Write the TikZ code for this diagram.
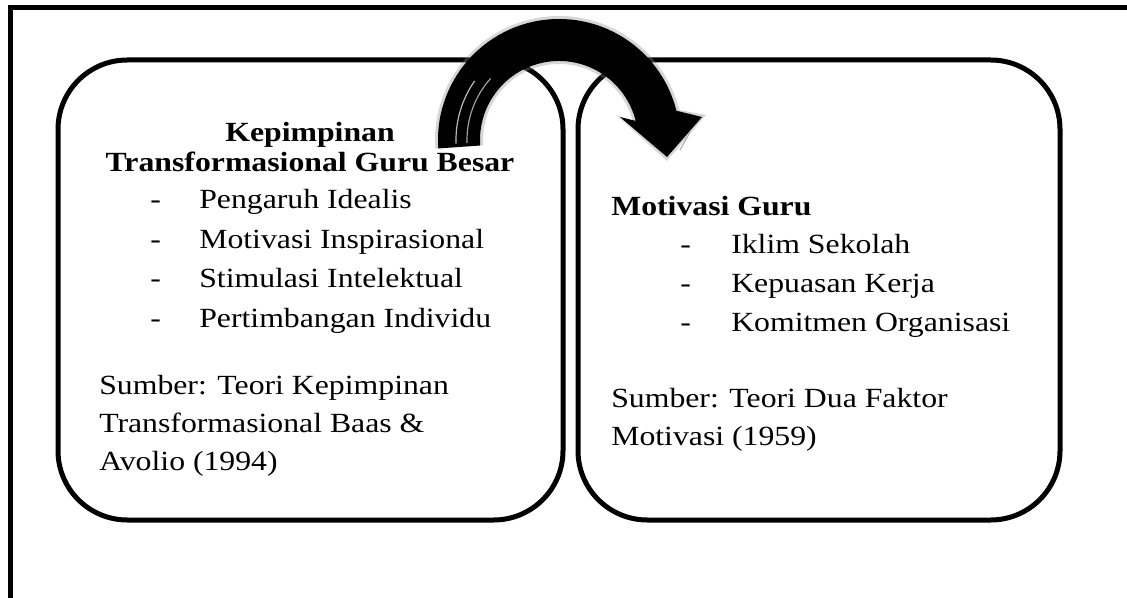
\documentclass[tikz,border=0pt]{standalone}
\usepackage{fontspec}
\setmainfont{Liberation Serif}[FakeStretch=1.145]
\usetikzlibrary{calc}
\begin{document}
\begin{tikzpicture}[x=0.75pt,y=-0.75pt,
  frameline/.style={line width=3.75pt},
  roundbox/.style={draw, line width=3.75pt, rounded corners=52pt, inner sep=0pt},
  txt/.style={anchor=base west, inner sep=0pt, font=\fontsize{20.8}{24}\selectfont},
  ttl/.style={txt, font=\fontsize{20.8}{24}\selectfont\bfseries},
  bigarrow/.style={fill=black},
  gloss/.style={draw=gray!75, line width=0.9pt}
]
\useasboundingbox (0,0) rectangle (1127,598);
\begin{scope}
\clip (0,0) rectangle (1127,598);
\draw[frameline] (10,620) -- (10,8) -- (1150,8);
\end{scope}

% boxes
\node[roundbox, minimum width=378.75pt, minimum height=345pt] (L) at (310.5,290) {};
\node[roundbox, minimum width=361.5pt, minimum height=345pt] (R) at (819,290) {};

% left box text
\node[ttl, anchor=base] (lt1) at (310,142) {Kepimpinan};
\node[ttl, anchor=base] (lt2) at (310,172) {Transformasional Guru Besar};
\node[txt] (ld1) at (150,209) {-};
\node[txt] (li1) at (199,209) {Pengaruh Idealis};
\node[txt] (ld2) at (150,248.5) {-};
\node[txt] (li2) at (199,248.5) {Motivasi Inspirasional};
\node[txt] (ld3) at (150,288) {-};
\node[txt] (li3) at (199,288) {Stimulasi Intelektual};
\node[txt] (ld4) at (150,327.5) {-};
\node[txt] (li4) at (199,327.5) {Pertimbangan Individu};
\node[txt] (ls1) at (99,394) {Sumber: Teori Kepimpinan};
\node[txt] (ls2) at (99,432) {Transformasional Baas \&};
\node[txt] (ls3) at (99,470) {Avolio (1994)};

% right box text
\node[ttl] (rt1) at (611,216) {Motivasi Guru};
\node[txt] (rd1) at (680,254) {-};
\node[txt] (ri1) at (731,254) {Iklim Sekolah};
\node[txt] (rd2) at (680,293) {-};
\node[txt] (ri2) at (731,293) {Kepuasan Kerja};
\node[txt] (rd3) at (680,332) {-};
\node[txt] (ri3) at (731,332) {Komitmen Organisasi};
\node[txt] (rs1) at (611,407) {Sumber: Teori Dua Faktor};
\node[txt] (rs2) at (611,445) {Motivasi (1959)};

% curved arrow
\coordinate (ac) at (559,140);
\fill[black!45, opacity=0.35] ($(ac)+(176:124)$) arc[start angle=176, end angle=346, radius=124]
  -- (706,115) -- (667,161) -- (616,115)
  -- ($(ac)+(346:76)$) arc[start angle=346, end angle=176, radius=76] -- cycle;
\fill[bigarrow] ($(ac)+(176:121)$) arc[start angle=176, end angle=346, radius=121]
  -- (702,117) -- (667,157) -- (620,117)
  -- ($(ac)+(346:79)$) arc[start angle=346, end angle=176, radius=79] -- cycle;
\draw[gloss] ($(ac)+(178:92)$) arc[start angle=178, end angle=222, radius=92];
\draw[gloss, draw=gray!55] ($(ac)+(178:103)$) arc[start angle=178, end angle=215, radius=103];
\draw[gloss, draw=gray!60] (680,150) -- (690,132);
\end{tikzpicture}
\end{document}
